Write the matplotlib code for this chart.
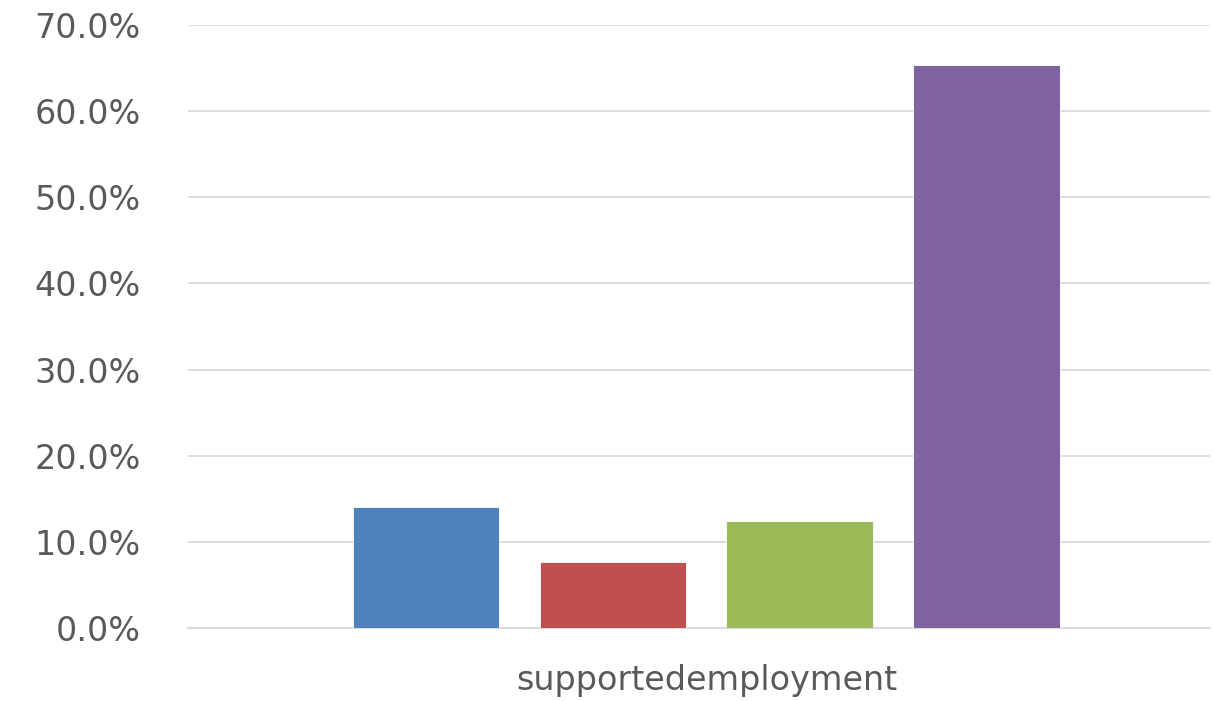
import matplotlib.pyplot as plt
import numpy as np
from matplotlib.ticker import FuncFormatter

# data
category = "supportedemployment"
series_values = [14.0, 7.7, 12.4, 65.3]   # percent
series_colors = ["#4F81BD", "#C0504D", "#9BBB59", "#8064A2"]
y_ticks = [0, 10, 20, 30, 40, 50, 60, 70]

fig = plt.figure(figsize=(12.14, 7.01), dpi=100)
ax = fig.add_axes([188 / 1214, 1 - 628 / 701, (1210 - 188) / 1214, (628 - 25) / 701])

# one category, four series side by side
offsets = np.arange(len(series_values)) - (len(series_values) - 1) / 2
ax.bar(offsets, series_values, width=0.786, color=series_colors,
       edgecolor="white", linewidth=0.6, zorder=3)

ax.set_xlim(-2.773, 2.693)
ax.set_ylim(0, 70)
ax.set_yticks(y_ticks)
ax.yaxis.set_major_formatter(FuncFormatter(lambda v, p: f"{v:.1f}%"))
ax.set_xticks([0])
ax.set_xticklabels([category])

ax.grid(axis="y", color="#d9d9d9", linewidth=1.3, zorder=0)
for s in ["top", "right", "left"]:
    ax.spines[s].set_visible(False)
ax.spines["bottom"].set_color("#d9d9d9")
ax.spines["bottom"].set_linewidth(1.3)

ax.tick_params(axis="both", length=0, labelsize=24, labelcolor="#595959")
ax.tick_params(axis="y", pad=34)
ax.tick_params(axis="x", pad=26)
for lab in ax.get_xticklabels() + ax.get_yticklabels():
    lab.set_fontfamily("DejaVu Sans")

fig.savefig("out.png", dpi=100)
